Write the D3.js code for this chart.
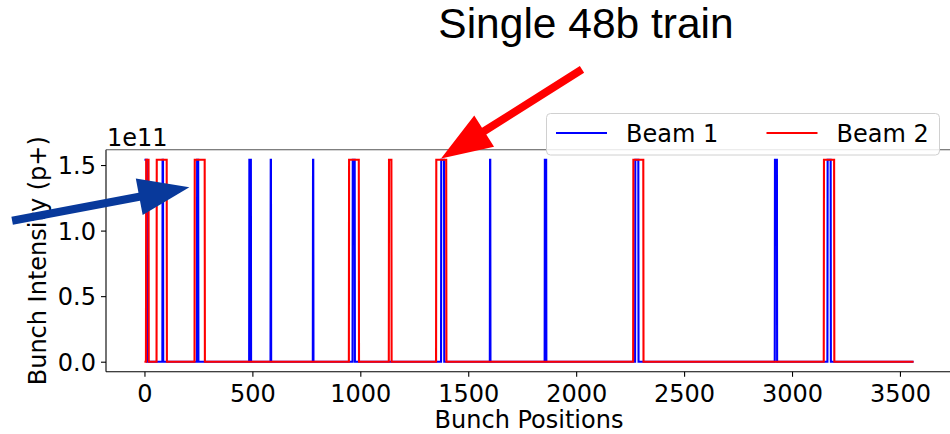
<!DOCTYPE html>
<html>
<head>
<meta charset="utf-8">
<script src="https://cdn.jsdelivr.net/npm/d3@7/dist/d3.min.js"></script>
<style>
  html, body { margin: 0; padding: 0; background: #fff; }
  svg { display: block; }
  text { font-family: "DejaVu Sans", sans-serif; fill: #000; }
</style>
</head>
<body>
<svg id="chart" width="950" height="434"></svg>
<script>
// Filling scheme: number of RF bucket slots in the ring and nominal bunch intensity (p+)
const nSlots = 3564;
const bunchIntensity = 1.54e11;

// Beam 1 trains: first and last filled slot of each train
const beam1Start = [0, 84, 244, 486, 585, 781, 965, 1375, 1601, 1855, 2274, 2921, 3165];
const beam1End   = [11, 86, 249, 493, 586, 782, 974, 1388, 1602, 1861, 2288, 2930, 3179];

// Beam 2 trains: first and last filled slot of each train
const beam2Start = [8, 57, 233, 948, 1133, 1352, 2265, 3148];
const beam2End   = [19, 103, 279, 993, 1144, 1398, 2311, 3195];

// Axis ticks
const xTicks = [0, 500, 1000, 1500, 2000, 2500, 3000, 3500];
const yTicks = [0, 0.5, 1.0, 1.5];   // in units of 1e11

const seriesNames = ["Beam 1", "Beam 2"];

// Build per-slot intensity arrays from the train boundaries
function fillPattern(starts, ends) {
  const v = new Array(nSlots).fill(0);
  starts.forEach((s, i) => {
    for (let k = s; k <= ends[i]; k++) v[k] = bunchIntensity;
  });
  return v.map((val, slot) => ({ slot, val }));
}
const beam1 = fillPattern(beam1Start, beam1End);
const beam2 = fillPattern(beam2Start, beam2End);

const svg = d3.select("#chart");
svg.append("rect").attr("width", 950).attr("height", 434).attr("fill", "#fff");

const plot = { left: 106, right: 952, top: 149.7, bottom: 371.8 };

// Axis limits with 5% padding around the data, like the default autoscale
const xMin = 0, xMax = nSlots - 1;
const xPad = (xMax - xMin) * 0.05;
const yMaxU = bunchIntensity / 1e11;
const yPad = yMaxU * 0.05;

const x = d3.scaleLinear().domain([xMin - xPad, xMax + xPad]).range([plot.left, plot.right]);
const y = d3.scaleLinear().domain([-yPad, yMaxU + yPad]).range([plot.bottom, plot.top]);

svg.append("defs").append("clipPath").attr("id", "clip")
  .append("rect")
  .attr("x", plot.left).attr("y", plot.top)
  .attr("width", plot.right - plot.left).attr("height", plot.bottom - plot.top);

const line = d3.line()
  .x(d => x(d.slot))
  .y(d => y(d.val / 1e11));

const colors = { b1: "#0000ff", b2: "#ff0000" };

const lines = svg.append("g").attr("clip-path", "url(#clip)");
lines.append("path").datum(beam1)
  .attr("d", line).attr("fill", "none")
  .attr("stroke", colors.b1).attr("stroke-width", 2.1).attr("stroke-linejoin", "miter");
lines.append("path").datum(beam2)
  .attr("d", line).attr("fill", "none")
  .attr("stroke", colors.b2).attr("stroke-width", 2.1).attr("stroke-linejoin", "miter");

// Axes
const xAxis = svg.append("g")
  .attr("transform", `translate(0,${plot.bottom})`)
  .call(d3.axisBottom(x).tickValues(xTicks).tickFormat(d3.format("d")).tickSize(5).tickPadding(4));
const yAxis = svg.append("g")
  .attr("transform", `translate(${plot.left},0)`)
  .call(d3.axisLeft(y).tickValues(yTicks).tickFormat(d3.format(".1f")).tickSize(5).tickPadding(5));

[xAxis, yAxis].forEach(g => {
  g.select(".domain").remove();
  g.selectAll(".tick line").attr("stroke", "#000").attr("stroke-width", 1.1);
  g.selectAll(".tick text").style("font-family", "DejaVu Sans").style("font-size", "24px").attr("fill", "#000");
});
xAxis.selectAll(".tick text").attr("dy", "0.88em");
yAxis.selectAll(".tick text").attr("dy", "0.36em");

// Spines (right spine falls just outside the canvas)
const spines = svg.append("g").attr("fill", "none");
spines.append("line").attr("x1", plot.left).attr("x2", plot.left)
  .attr("y1", plot.top).attr("y2", plot.bottom).attr("stroke", "#000").attr("stroke-width", 1.1);
spines.append("line").attr("x1", plot.left).attr("x2", plot.right)
  .attr("y1", plot.bottom).attr("y2", plot.bottom).attr("stroke", "#000").attr("stroke-width", 1.1);
spines.append("line").attr("x1", plot.left).attr("x2", plot.right)
  .attr("y1", plot.top).attr("y2", plot.top).attr("stroke", "#555").attr("stroke-width", 1.1);
spines.append("line").attr("x1", plot.right).attr("x2", plot.right)
  .attr("y1", plot.top).attr("y2", plot.bottom).attr("stroke", "#000").attr("stroke-width", 1.1);

// Offset label for the intensity axis
svg.append("text").attr("x", plot.left + 1).attr("y", plot.top - 4)
  .style("font-size", "24px").text("1e11");

// Axis titles
svg.append("text")
  .attr("x", (plot.left + plot.right) / 2).attr("y", 427.5)
  .attr("text-anchor", "middle").style("font-size", "24px")
  .text("Bunch Positions");
svg.append("text")
  .attr("transform", `translate(46,${(plot.top + plot.bottom) / 2}) rotate(-90)`)
  .attr("text-anchor", "middle").style("font-size", "24px")
  .text("Bunch Intensity (p+)");

// Legend
const legend = svg.append("g");
legend.append("rect")
  .attr("x", 546.5).attr("y", 113.5).attr("width", 393).attr("height", 41.5)
  .attr("rx", 4).attr("fill", "#fff").attr("fill-opacity", 0.85)
  .attr("stroke", "#d0d0d0").attr("stroke-width", 1);
const legendItems = [
  { name: seriesNames[0], color: colors.b1, x0: 556 },
  { name: seriesNames[1], color: colors.b2, x0: 766.5 }
];
legendItems.forEach(it => {
  legend.append("line")
    .attr("x1", it.x0).attr("x2", it.x0 + 51).attr("y1", 133).attr("y2", 133)
    .attr("stroke", it.color).attr("stroke-width", 2.1);
  legend.append("text")
    .attr("x", it.x0 + 70).attr("y", 141.7)
    .style("font-size", "24px").text(it.name);
});

// Title
svg.append("text")
  .attr("x", 586).attr("y", 38)
  .attr("text-anchor", "middle")
  .style("font-family", "'Liberation Sans', Arial, sans-serif")
  .style("font-size", "42.5px").attr("fill", "#1f1f1f")
  .text("Single 48b train");

// Annotation arrows, placed in data coordinates (slot, intensity / 1e11)
const arrows = [
  { tail: [2027, 2.23], tip: [1374, 1.55], color: "#ff0000" },
  { tail: [-613, 1.075], tip: [208, 1.33], color: "#08399b" }
];
const shaftW = 8, headLen = 51, headHalf = 18.5;
arrows.forEach(a => {
  const tx = x(a.tail[0]), ty = y(a.tail[1]);
  const hx = x(a.tip[0]), hy = y(a.tip[1]);
  const dx = hx - tx, dy = hy - ty, L = Math.hypot(dx, dy);
  const ux = dx / L, uy = dy / L, px = -uy, py = ux;
  const bx = hx - ux * headLen, by = hy - uy * headLen;
  const pts = [
    [tx + px * shaftW / 2, ty + py * shaftW / 2],
    [bx + px * shaftW / 2, by + py * shaftW / 2],
    [bx + px * headHalf, by + py * headHalf],
    [hx, hy],
    [bx - px * headHalf, by - py * headHalf],
    [bx - px * shaftW / 2, by - py * shaftW / 2],
    [tx - px * shaftW / 2, ty - py * shaftW / 2]
  ];
  svg.append("path")
    .attr("d", "M" + pts.map(p => p.join(",")).join("L") + "Z")
    .attr("fill", a.color);
});
</script>
</body>
</html>
